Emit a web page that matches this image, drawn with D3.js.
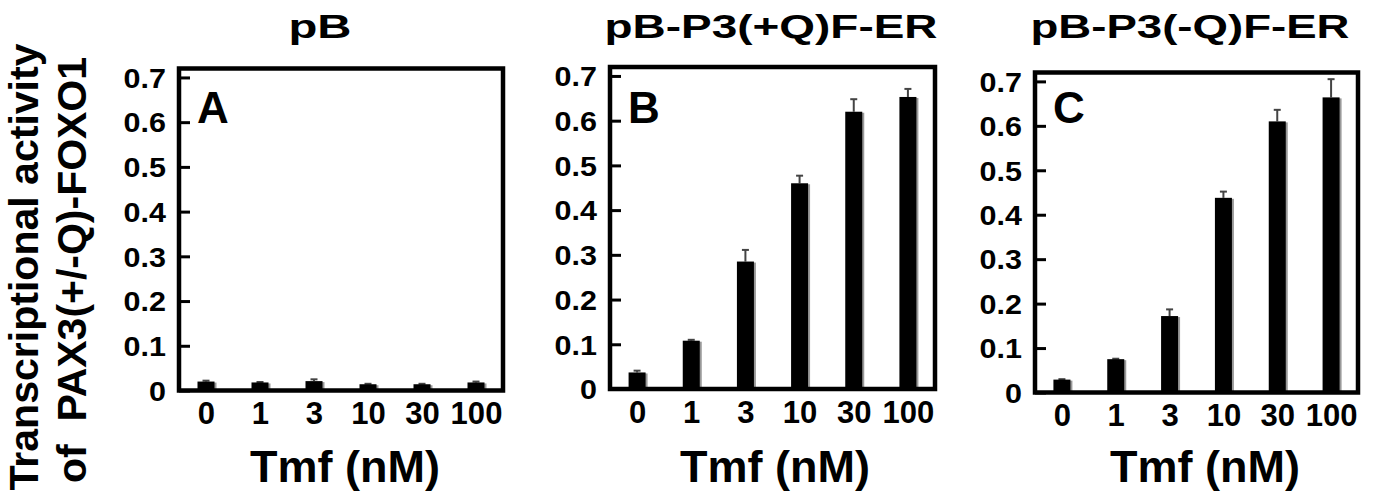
<!DOCTYPE html>
<html>
<head>
<meta charset="utf-8">
<script src="https://cdn.jsdelivr.net/npm/d3@7"></script>
<style>
  html, body { margin: 0; padding: 0; background: #fff; }
  svg { display: block; font-family: Arial, "Liberation Sans", sans-serif; }
</style>
</head>
<body>
<svg id="chart" width="1384" height="499"></svg>
<script>
// ---- data ----
const categories = ["0", "1", "3", "10", "30", "100"];
const panelTitles = ["pB", "pB-P3(+Q)F-ER", "pB-P3(-Q)F-ER"];
const panelLetters = ["A", "B", "C"];
const valuesA = [0.020, 0.018, 0.021, 0.014, 0.014, 0.018];
const errorsA = [0.002, 0.001, 0.004, 0.001, 0.001, 0.002];
const valuesB = [0.037, 0.108, 0.285, 0.460, 0.620, 0.653];
const errorsB = [0.004, 0.002, 0.026, 0.017, 0.028, 0.018];
const valuesC = [0.029, 0.075, 0.172, 0.438, 0.610, 0.664];
const errorsC = [0.001, 0.001, 0.015, 0.014, 0.026, 0.041];
const yTicks = [0, 0.1, 0.2, 0.3, 0.4, 0.5, 0.6, 0.7];
const yMax = 0.72;
const xLabel = "Tmf (nM)";
const yLabelLines = ["Transcriptional activity", "of  PAX3(+/-Q)-FOXO1"];

// ---- layout (positions only) ----
const layout = [
  { left: 179, top: 68.5, width: 324, height: 322, titleX: 320, titleW: 63, xLabX: 345 },
  { left: 610, top: 67,   width: 325, height: 322, titleX: 771, titleW: 333, xLabX: 775 },
  { left: 1035, top: 72.5, width: 323, height: 320, titleX: 1190, titleW: 319, xLabX: 1205 }
];
const seriesValues = [valuesA, valuesB, valuesC];
const seriesErrors = [errorsA, errorsB, errorsC];

const svg = d3.select("#chart");

layout.forEach((L, i) => {
  const g = svg.append("g").attr("transform", `translate(${L.left},${L.top})`);
  const x = d3.scalePoint().domain(categories).range([0, L.width]).padding(0.5);
  const y = d3.scaleLinear().domain([0, yMax]).range([L.height, 0]);
  const barW = 17;

  const data = categories.map((c, k) => ({ c, v: seriesValues[i][k], e: seriesErrors[i][k] }));

  // error bars (upper only)
  const eg = g.append("g");
  eg.selectAll("line.ev").data(data).join("line")
    .attr("x1", d => x(d.c)).attr("x2", d => x(d.c))
    .attr("y1", d => y(d.v)).attr("y2", d => y(d.v + d.e))
    .attr("stroke", "#444").attr("stroke-width", 2);
  eg.selectAll("line.ec").data(data).join("line")
    .attr("x1", d => x(d.c) - 3.5).attr("x2", d => x(d.c) + 3.5)
    .attr("y1", d => y(d.v + d.e)).attr("y2", d => y(d.v + d.e))
    .attr("stroke", "#444").attr("stroke-width", 2);

  // bar shadow
  g.selectAll("rect.sh").data(data).join("rect")
    .attr("x", d => x(d.c) + barW / 2 - 1)
    .attr("y", d => y(d.v) + 1)
    .attr("width", 3)
    .attr("height", d => y(0) - y(d.v) - 1)
    .attr("fill", "#999");
  // bars
  g.selectAll("rect.bar").data(data).join("rect")
    .attr("x", d => x(d.c) - barW / 2)
    .attr("y", d => y(d.v))
    .attr("width", barW)
    .attr("height", d => y(0) - y(d.v))
    .attr("fill", "#000");

  // y axis (inward ticks)
  const ya = g.append("g").call(
    d3.axisLeft(y).tickValues(yTicks).tickSize(-11).tickPadding(13)
      .tickFormat(d => d === 0 ? "0" : d3.format(".1f")(d))
  );
  ya.select(".domain").remove();
  ya.selectAll(".tick line").attr("stroke", "#000").attr("stroke-width", 3);
  ya.selectAll(".tick text")
    .attr("font-size", 27).attr("font-weight", "bold")
    .attr("font-family", "Arial, 'Liberation Sans', sans-serif")
    .attr("fill", "#000").attr("dy", "0.36em")
    .each(function () {
      const w = this.getComputedTextLength();
      d3.select(this).attr("textLength", w * 1.13).attr("lengthAdjust", "spacingAndGlyphs");
    });

  // x axis
  const xa = g.append("g").attr("transform", `translate(0,${L.height})`).call(
    d3.axisBottom(x).tickSize(0).tickPadding(11)
  );
  xa.select(".domain").remove();
  xa.selectAll(".tick text")
    .attr("font-size", 32).attr("font-weight", "bold")
    .attr("font-family", "Arial, 'Liberation Sans', sans-serif")
    .attr("fill", "#000")
    .each(function () {
      const w = this.getComputedTextLength();
      d3.select(this).attr("textLength", w * 0.97).attr("lengthAdjust", "spacingAndGlyphs");
    });

  // frame
  g.append("rect")
    .attr("x", 0).attr("y", 0).attr("width", L.width).attr("height", L.height)
    .attr("fill", "none").attr("stroke", "#000").attr("stroke-width", 4.5);

  // panel letter
  g.append("text")
    .attr("x", 18).attr("y", 123 - L.top)
    .attr("font-size", 44).attr("font-weight", "bold")
    .attr("fill", "#000")
    .text(panelLetters[i]);

  // title
  svg.append("text")
    .attr("x", L.titleX).attr("y", 38)
    .attr("text-anchor", "middle")
    .attr("font-size", 34).attr("font-weight", "bold")
    .attr("textLength", L.titleW).attr("lengthAdjust", "spacingAndGlyphs")
    .attr("fill", "#000")
    .text(panelTitles[i]);

  // x label
  svg.append("text")
    .attr("x", L.xLabX).attr("y", 482)
    .attr("text-anchor", "middle")
    .attr("font-size", 45).attr("font-weight", "bold")
    .attr("fill", "#000")
    .text(xLabel);
});

// y label (two lines, rotated)
const yl = svg.append("g");
yLabelLines.forEach((t, k) => {
  yl.append("text")
    .attr("transform", `translate(${[38, 86][k]},${[267, 270][k]}) rotate(-90)`)
    .attr("text-anchor", "middle")
    .attr("font-size", 40).attr("font-weight", "bold")
    .attr("textLength", [447, 426][k]).attr("lengthAdjust", "spacingAndGlyphs")
    .attr("fill", "#000")
    .style("white-space", "pre")
    .text(t);
});
</script>
</body>
</html>
